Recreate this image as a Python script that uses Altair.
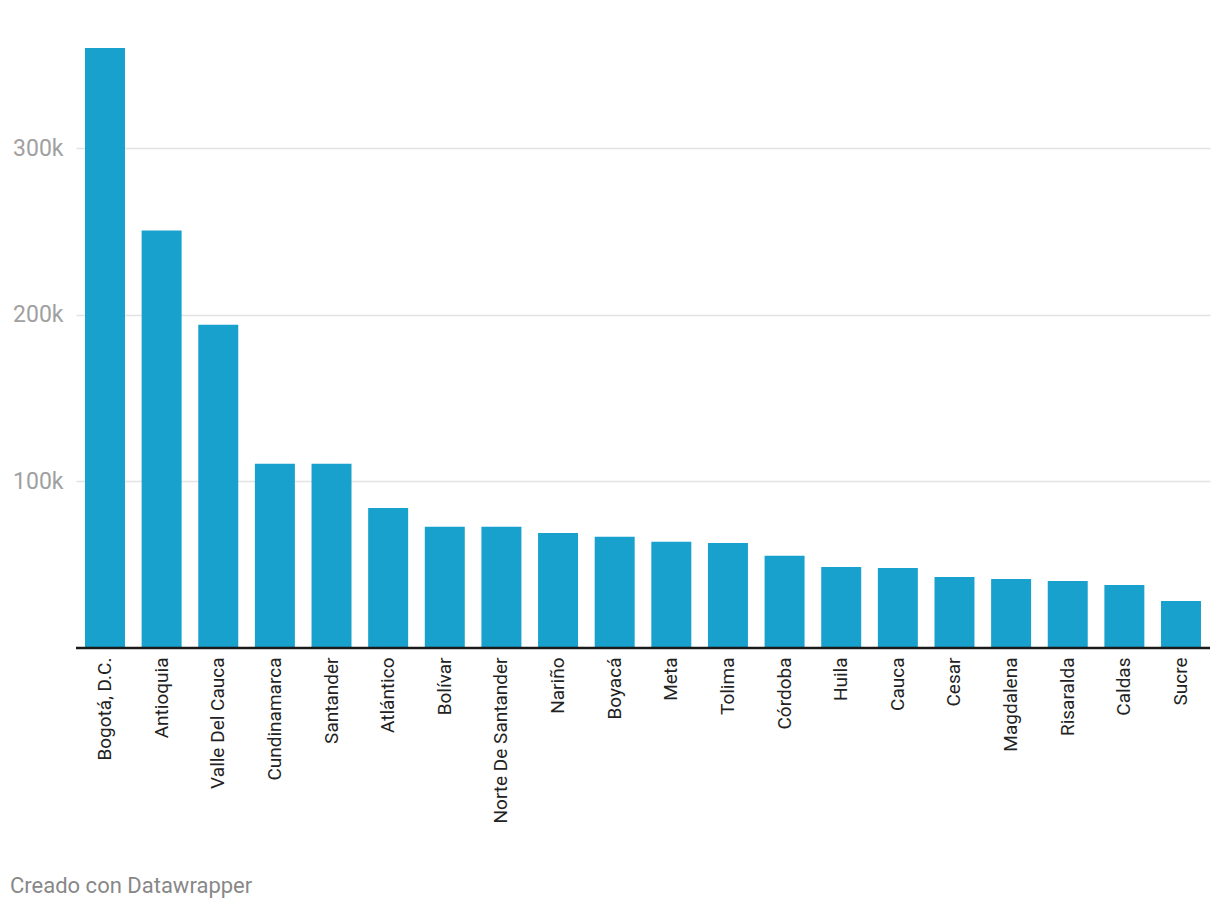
import altair as alt
import pandas as pd

departamentos = ["Bogotá, D.C.", "Antioquia", "Valle Del Cauca", "Cundinamarca", "Santander",
                 "Atlántico", "Bolívar", "Norte De Santander", "Nariño", "Boyacá", "Meta",
                 "Tolima", "Córdoba", "Huila", "Cauca", "Cesar", "Magdalena", "Risaralda",
                 "Caldas", "Sucre"]
valores = [360000, 250500, 194000, 110500, 110500, 84000, 72700, 72700, 69000, 66700, 63700,
           63000, 55300, 48600, 48000, 42600, 41400, 40200, 37800, 28200]
y_ticks = [100000, 200000, 300000]

df = pd.DataFrame({"departamento": departamentos, "valor": valores})

base = alt.Chart(df)

bars = base.mark_bar(color="#18a1cd").encode(
    x=alt.X("departamento:N", sort=departamentos,
            scale=alt.Scale(paddingInner=0.294, paddingOuter=0.159),
            axis=alt.Axis(title=None, labelAngle=-90, labelFont="Roboto", labelFontSize=19,
                          labelColor="#222222", labelPadding=9, ticks=False, domain=False,
                          grid=False, labelAlign="right", labelBaseline="middle", labelLimit=300)),
    y=alt.Y("valor:Q", scale=alt.Scale(domain=[0, 360000], nice=False),
            axis=alt.Axis(title=None, values=y_ticks, labelExpr="datum.value/1000 + 'k'",
                          labelFont="Roboto", labelFontSize=23, labelColor="#a0a0a0",
                          labelPadding=13, ticks=False, domain=False, grid=True,
                          gridColor="#e3e3e3", gridWidth=1.5)),
)

baseline = base.mark_rule(color="#1a1a1a", strokeWidth=2.5).encode(
    y=alt.datum(0)
).transform_filter("datum.departamento == 'Bogotá, D.C.'")

chart = alt.layer(bars, baseline).properties(
    width=1134, height=600,
    autosize=alt.AutoSizeParams(type="none"),
    padding={"left": 68, "top": 40, "right": 2, "bottom": 258},
    title=alt.TitleParams("Creado con Datawrapper", orient="bottom", anchor="start",
                          frame="group", dx=-66, offset=53, font="Roboto", fontSize=22,
                          fontWeight="normal", color="#888888"),
).configure_view(stroke=None)

chart.save("out.html", embed_options={"renderer": "svg", "actions": False})
